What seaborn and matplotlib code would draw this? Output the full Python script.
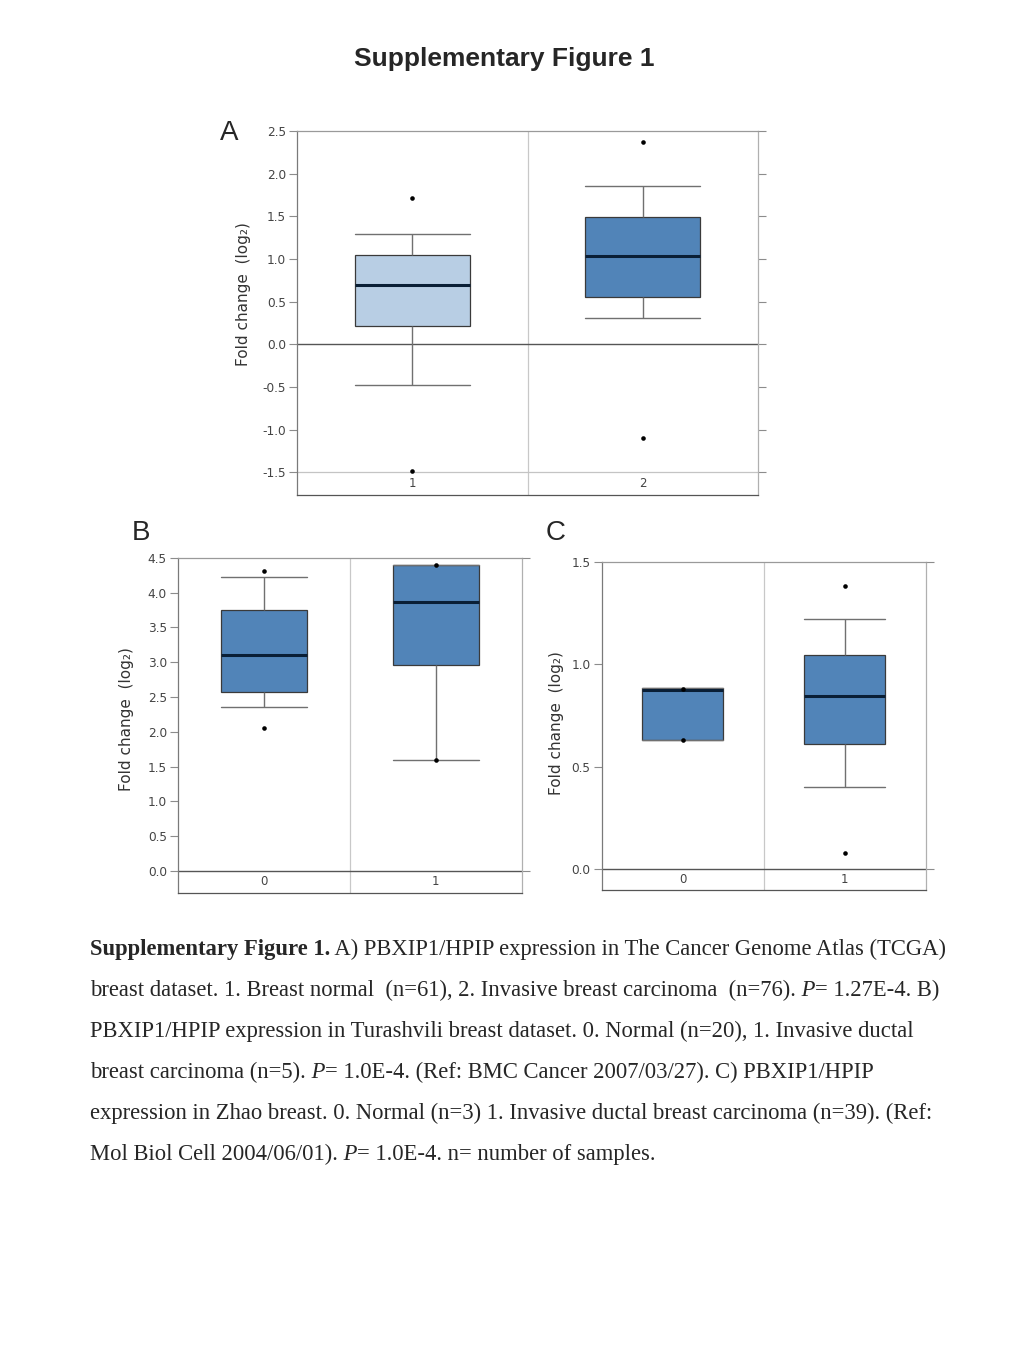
import matplotlib
matplotlib.use("Agg")
import matplotlib.pyplot as plt
import pandas as pd
import seaborn as sns

# Panel A: TCGA breast (1 = breast normal, 2 = invasive breast carcinoma)
a_groups = ["1", "2"]
a_whislo = [-0.47, 0.31]
a_q1 = [0.21, 0.55]
a_median = [0.70, 1.04]
a_q3 = [1.05, 1.49]
a_whishi = [1.29, 1.86]
a_flier_group = ["1", "1", "2", "2"]
a_flier_value = [1.72, -1.48, 2.37, -1.10]
a_ticks = [-1.5, -1.0, -0.5, 0.0, 0.5, 1.0, 1.5, 2.0, 2.5]

# Panel B: Turashvili breast (0 = normal, 1 = invasive ductal carcinoma)
b_groups = ["0", "1"]
b_whislo = [2.36, 1.59]
b_q1 = [2.57, 2.96]
b_median = [3.11, 3.86]
b_q3 = [3.75, 4.39]
b_whishi = [4.22, 4.39]
b_flier_group = ["0", "0", "1", "1"]
b_flier_value = [4.31, 2.06, 4.39, 1.59]
b_ticks = [0.0, 0.5, 1.0, 1.5, 2.0, 2.5, 3.0, 3.5, 4.0, 4.5]

# Panel C: Zhao breast (0 = normal, 1 = invasive ductal carcinoma)
c_groups = ["0", "1"]
c_whislo = [0.63, 0.40]
c_q1 = [0.63, 0.61]
c_median = [0.875, 0.845]
c_q3 = [0.885, 1.045]
c_whishi = [0.885, 1.22]
c_flier_group = ["0", "0", "1", "1"]
c_flier_value = [0.88, 0.63, 1.38, 0.08]
c_ticks = [0.0, 0.5, 1.0, 1.5]

LIGHT_BLUE = "#b8cee4"
STEEL_BLUE = "#5184b8"

caption_lines = [
    [("Supplementary Figure 1.", "bold"),
     (" A) PBXIP1/HPIP expression in The Cancer Genome Atlas (TCGA)", "normal")],
    [("breast dataset. 1. Breast normal  (n=61), 2. Invasive breast carcinoma  (n=76).", "normal"),
     (" P", "italic"), ("= 1.27E-4. B)", "normal")],
    [("PBXIP1/HPIP expression in Turashvili breast dataset. 0. Normal (n=20), 1. Invasive ductal", "normal")],
    [("breast carcinoma (n=5).", "normal"), (" P", "italic"),
     ("= 1.0E-4. (Ref: BMC Cancer 2007/03/27). C) PBXIP1/HPIP", "normal")],
    [("expression in Zhao breast. 0. Normal (n=3) 1. Invasive ductal breast carcinoma (n=39). (Ref:", "normal")],
    [("Mol Biol Cell 2004/06/01).", "normal"), (" P", "italic"),
     ("= 1.0E-4. n= number of samples.", "normal")],
]


def summary_frame(groups, whislo, q1, median, q3, whishi):
    # five values per group reproduce the read quartiles exactly with whis=(0, 100)
    rows = []
    for g, lo, a, m, b, hi in zip(groups, whislo, q1, median, q3, whishi):
        for v in (lo, a, m, b, hi):
            rows.append({"group": g, "value": v})
    return pd.DataFrame(rows)


def draw_panel(ax, groups, df, flier_group, flier_value, colors, ticks,
               ylim, band_line, all_right_ticks, ylabel_xy):
    sns.boxplot(
        data=df, x="group", y="value", hue="group", order=groups,
        hue_order=groups, palette=colors, saturation=1, legend=False,
        width=0.5, whis=(0, 100), showfliers=False, linecolor="#3a3a3a",
        linewidth=0.9,
        medianprops=dict(color="#0a1f36", linewidth=2.2),
        whiskerprops=dict(color="#707070", linewidth=1.0),
        capprops=dict(color="#707070", linewidth=1.0),
        capwidths=0.5, ax=ax,
    )
    sns.stripplot(x=flier_group, y=flier_value, order=groups, jitter=False,
                  color="black", size=3.3, linewidth=0, zorder=5, ax=ax)

    ax.set_xlim(-0.5, len(groups) - 0.5)
    ax.set_ylim(*ylim)
    ax.axvline(0.5, color="#c8c8c8", lw=0.9, zorder=0)
    ax.axhline(0.0, color="#555555", lw=1.0, zorder=1)
    if band_line != 0.0:
        ax.axhline(band_line, color="#c4c4c4", lw=0.9, zorder=1)

    band_mid = (band_line + ylim[0]) / 2
    for i, g in enumerate(groups):
        ax.text(i, band_mid, g, ha="center", va="center", fontsize=8.5,
                color="#444444")

    ax.set_xticks([])
    ax.set_xlabel("")
    ax.set_ylabel("")
    ax.set_yticks(ticks)
    ax.set_yticklabels([f"{t:.1f}" for t in ticks])
    ax.tick_params(axis="y", left=True, right=True, length=6, width=0.8,
                   color="#8c8c8c", labelsize=8.7, labelcolor="#444444", pad=2)
    if not all_right_ticks:
        for t, tick in zip(ticks, ax.yaxis.get_major_ticks()):
            if t not in (0.0, ticks[-1]):
                tick.tick2line.set_visible(False)

    ax.spines["left"].set_color("#7a7a7a")
    ax.spines["bottom"].set_color("#555555")
    ax.spines["top"].set_color("#9a9a9a")
    ax.spines["right"].set_color("#b0b0b0")
    for s in ax.spines.values():
        s.set_linewidth(0.9)
        s.set_visible(True)

    ax.text(ylabel_xy[0], ylabel_xy[1], "Fold change  (log\u2082)", rotation=90,
            ha="center", va="center", fontsize=11, color="#333333",
            transform=ax.transAxes)


sns.set_style("white")
plt.rcParams["font.family"] = ["DejaVu Sans"]

W, H = 1024, 1365
fig = plt.figure(figsize=(W / 100, H / 100), dpi=100)

ax_a = fig.add_axes([297 / W, 1 - 495 / H, 461 / W, 364 / H])
draw_panel(ax_a, a_groups,
           summary_frame(a_groups, a_whislo, a_q1, a_median, a_q3, a_whishi),
           a_flier_group, a_flier_value, [LIGHT_BLUE, STEEL_BLUE], a_ticks,
           (-1.764, 2.5), -1.5, True, (-0.115, 0.552))

ax_b = fig.add_axes([178 / W, 1 - 892.7 / H, 343.7 / W, 335 / H])
draw_panel(ax_b, b_groups,
           summary_frame(b_groups, b_whislo, b_q1, b_median, b_q3, b_whishi),
           b_flier_group, b_flier_value, [STEEL_BLUE, STEEL_BLUE], b_ticks,
           (-0.31, 4.5), 0.0, False, (-0.151, 0.517))

ax_c = fig.add_axes([601.7 / W, 1 - 890 / H, 324 / W, 328.3 / H])
draw_panel(ax_c, c_groups,
           summary_frame(c_groups, c_whislo, c_q1, c_median, c_q3, c_whishi),
           c_flier_group, c_flier_value, [STEEL_BLUE, STEEL_BLUE], c_ticks,
           (-0.1025, 1.5), 0.0, False, (-0.138, 0.509))

# panel letters and page title
for letter, x, y in [("A", 229, 140), ("B", 141.5, 540), ("C", 556, 540)]:
    fig.text(x / W, 1 - y / H, letter, ha="center", va="baseline",
             fontsize=20, family="Liberation Sans")

fig.text(504.5 / W, 1 - 66 / H, "Supplementary Figure 1", ha="center",
         va="baseline", fontsize=19, weight="bold", family="Liberation Sans")

# caption, mixed bold / italic runs placed one after another
renderer = fig.canvas.get_renderer()
caption_size = 16.3
for n, parts in enumerate(caption_lines):
    x = 90 / W
    y = 1 - (955 + 41 * n) / H
    for text, style in parts:
        t = fig.text(x, y, text, ha="left", va="baseline", fontsize=caption_size,
                     family="Liberation Serif",
                     weight="bold" if style == "bold" else "normal",
                     style="italic" if style == "italic" else "normal")
        x += t.get_window_extent(renderer).width / W

fig.savefig("out.png", dpi=100)
